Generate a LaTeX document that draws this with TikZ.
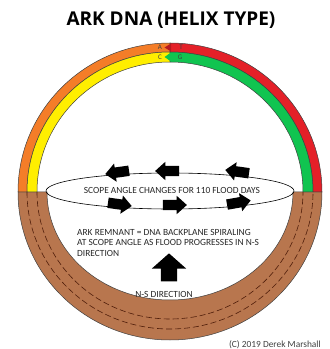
\documentclass[tikz,border=0pt]{standalone}
\usepackage{fontspec}
\setmainfont{Carlito}
\newfontfamily\titlefont{Open Sans}
\usetikzlibrary{shapes.arrows}
\definecolor{ringorange}{RGB}{244,125,40}
\definecolor{ringyellow}{RGB}{255,238,0}
\definecolor{ringred}{RGB}{228,32,40}
\definecolor{ringgreen}{RGB}{16,196,80}
\definecolor{ringbrown}{RGB}{184,118,78}
\definecolor{dashbrown}{RGB}{80,30,10}
\tikzset{
  band/.style={draw=black!75, line width=0.5pt},
  dnadash/.style={draw=dashbrown, line width=0.6pt, dash pattern=on 6pt off 3pt},
  smallarrow/.style={single arrow, fill=black, draw=none, inner xsep=0pt, inner ysep=5pt,
    minimum height=24pt, single arrow head extend=4pt,
    single arrow tip angle=84},
  bigarrow/.style={single arrow, fill=black, draw=none, inner xsep=0pt, inner ysep=8pt,
    minimum height=28pt, single arrow head extend=9pt,
    single arrow tip angle=97},
  label/.style={font=\fontsize{9.4}{10.5}\selectfont, text=black!85, inner sep=0pt},
  base/.style={font=\fontsize{7}{8}\selectfont, text=black!75, inner sep=0pt}
}
\begin{document}
\begin{tikzpicture}[x=1pt,y=1pt]
\useasboundingbox (0,0) rectangle (330,349);
% lower brown ring
\path[fill=ringbrown, band] (18,157) arc[start angle=180,end angle=360,x radius=152pt,y radius=148pt]
  -- (293,157) arc[start angle=0,end angle=-180,x radius=123pt,y radius=108pt] -- cycle;
\draw[dnadash] (27,157) arc[start angle=180,end angle=360,x radius=143pt,y radius=137pt];
\draw[dnadash] (37,157) arc[start angle=180,end angle=360,x radius=133pt,y radius=127pt];
% upper ring
\path[fill=ringorange, band] (18,157) arc[start angle=180,end angle=90,x radius=152pt,y radius=149pt]
  -- (170,297) arc[start angle=90,end angle=180,x radius=143pt,y radius=140pt] -- cycle;
\path[fill=ringyellow, band] (27,157) arc[start angle=180,end angle=90,x radius=143pt,y radius=140pt]
  -- (170,287) arc[start angle=90,end angle=180,x radius=133pt,y radius=130pt] -- cycle;
\path[fill=ringred, band] (170,306) arc[start angle=90,end angle=0,x radius=152pt,y radius=149pt]
  -- (313,157) arc[start angle=0,end angle=90,x radius=143pt,y radius=140pt] -- cycle;
\path[fill=ringgreen, band] (170,297) arc[start angle=90,end angle=0,x radius=143pt,y radius=140pt]
  -- (303,157) arc[start angle=0,end angle=90,x radius=133pt,y radius=130pt] -- cycle;
% interlocking tips
\fill[ringred!80!black] (171,305.5) -- (164.5,301.5) -- (171,297.5) -- cycle;
\fill[ringgreen] (171,296.5) -- (164.5,292) -- (171,287.5) -- cycle;
\node[base] (A) at (160,301.5) {A};
\node[base] (T) at (181,301.5) {T};
\node[base] (C) at (160,292) {C};
\node[base] (G) at (180,292) {G};
% scope ellipse
\draw[black, line width=0.6pt] (170,158) ellipse[x radius=124pt, y radius=18pt];
\node[label] (scope) at (172,159) {SCOPE ANGLE CHANGES FOR 110 FLOOD DAYS};
% arrows along the ellipse
\node[smallarrow, rotate=188] (t1) at (120,177) {};
\node[smallarrow, rotate=180] (t2) at (170,178) {};
\node[smallarrow, rotate=172] (t3) at (240,177) {};
\node[smallarrow, rotate=-8] (b1) at (117,145) {};
\node[smallarrow, rotate=0] (b2) at (172,144) {};
\node[smallarrow, rotate=10] (b3) at (236,146) {};
% text
\node[label, anchor=north west, align=left] (remnant) at (77,120)
  {ARK REMNANT = DNA BACKPLANE SPIRALING\\AT SCOPE ANGLE AS FLOOD PROGRESSES IN N-S\\DIRECTION};
\node[bigarrow, rotate=90] (ns) at (169,78) {};
\node[label] (nslabel) at (164,55) {N-S DIRECTION};
\node[label, anchor=east, text=black!75] (copy) at (321,4) {(C) 2019 Derek Marshall};
\node[font=\titlefont\bfseries\fontsize{19}{22}\selectfont, inner sep=0pt] (title) at (171,329) {ARK DNA (HELIX TYPE)};
\end{tikzpicture}
\end{document}
